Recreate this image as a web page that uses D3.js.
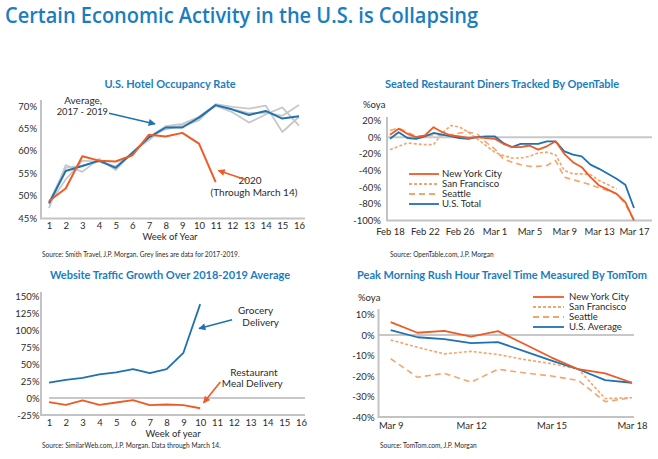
<!DOCTYPE html>
<html>
<head>
<meta charset="utf-8">
<script src="https://cdn.jsdelivr.net/npm/d3@7"></script>
<style>
  body { margin: 0; background: #fff; }
  svg { display: block; font-family: Lato, "Open Sans", sans-serif; }
</style>
</head>
<body>
<svg id="chart" width="658" height="459"></svg>
<script>
// ---- data ----
const weeks = [1, 2, 3, 4, 5, 6, 7, 8, 9, 10, 11, 12, 13, 14, 15, 16];

const hotelAvg = [48.3, 55.5, 56.6, 57.8, 56.2, 59.5, 63.0, 65.2, 65.2, 67.4, 70.2, 69.2, 68.0, 68.9, 67.2, 67.7];
const hotel2020 = [48.8, 51.6, 58.8, 57.8, 57.6, 59.0, 63.6, 63.2, 64.0, 61.6, 53.0];
const hotel2017 = [47.2, 56.8, 55.3, 58.2, 55.7, 59.7, 62.4, 65.4, 65.5, 66.8, 70.4, 69.8, 69.4, 70.1, 64.2, 67.6];
const hotel2018 = [48.0, 53.6, 57.8, 57.6, 56.5, 59.2, 63.1, 64.8, 65.6, 67.6, 70.0, 68.6, 66.3, 68.1, 69.7, 65.6];
const hotel2019 = [48.5, 56.2, 56.7, 57.6, 56.4, 59.6, 63.0, 65.5, 66.0, 67.6, 70.3, 69.3, 68.4, 68.5, 67.8, 70.2];
const hotelTicks = [45, 50, 55, 60, 65, 70];

// OpenTable: one value per day, Feb 18 (day 0) .. Mar 17 (day 28)
const dinerTickDays = [0, 4, 8, 12, 16, 20, 24, 28];
const dinerTickLabels = ["Feb 18", "Feb 22", "Feb 26", "Mar 1", "Mar 5", "Mar 9", "Mar 13", "Mar 17"];
const dinerNYC = [3, 10, 4, 0, 2, 12, 6, 2, 1, -1, 0, -1, -2, -8, -12, -12, -10, -15, -11, -5, -20, -30, -36, -48, -58, -63, -68, -78, -100];
const dinerSF = [-15, -11, -7, -8, -9, -9, 5, 14, 12, 6, -2, -10, -18, -22, -25, -25, -23, -19, -18, -21, -40, -44, -44, -45, -52, -57, -62];
const dinerSeattle = [8, 11, 6, 1, 1, 3, 2, 3, 5, 6, 4, -6, -14, -26, -30, -33, -35, -35, -34, -28, -48, -51, -54, -57, -61, -64, -68, -80, -100];
const dinerTotal = [-2, 6, -1, -2, 1, 5, 3, 1, -1, -2, 0, 1, 1, -7, -12, -8, -8, -8, -5, -5, -17, -21, -23, -33, -38, -44, -50, -57, -85];
const dinerTicks = [-100, -80, -60, -40, -20, 0, 20];

const grocery = [23, 27, 30, 35, 38, 43, 37, 43, 67, 139];
const restaurant = [-6, -10, -3.5, -10, -6.5, -3, -10.5, -9.5, -10.5, -15];
const webTicks = [-25, 0, 25, 50, 75, 100, 125, 150];

// TomTom: Mar 9 .. Mar 18
const travelDays = [9, 10, 11, 12, 13, 14, 15, 16, 17, 18];
const travelTickDays = [9, 12, 15, 18];
const travelNYC = [6.3, 1.1, 2.0, -0.8, 1.9, -4.5, -11, -16.7, -18.7, -23.3];
const travelSF = [-2.4, -6, -9.2, -8, -9.5, -12, -14, -16.7, -31, -30.6];
const travelSeattle = [-11.6, -20.6, -18.7, -23, -16.7, -18.5, -20, -22.2, -32.5, -30.6];
const travelUS = [2.4, -1.1, -2.0, -4.0, -3.5, -8, -12.5, -16.7, -22, -23.3];
const travelTicks = [-40, -30, -20, -10, 0, 10];

// ---- styles ----
const BLUE = "#1f72b1";
const ORANGE = "#f05a24";
const LIGHT = "#f4a56c";
const GREY = "#c8c8c8";
const AXIS = "#c3c3c3";
const TITLE = "#1a7dc0";
const TEXT = "#2b2b2b";
const SF_DASH = "3,2";
const SEA_DASH = "6,4";

const svg = d3.select("#chart");

const defs = svg.append("defs");
[["arrowBlue", BLUE], ["arrowOrange", ORANGE]].forEach(([id, c]) => {
  defs.append("marker")
    .attr("id", id)
    .attr("viewBox", "0 0 10 10")
    .attr("refX", 9)
    .attr("refY", 5)
    .attr("markerUnits", "userSpaceOnUse")
    .attr("markerWidth", 9)
    .attr("markerHeight", 7)
    .attr("orient", "auto")
    .append("path")
    .attr("d", "M0,0 L10,5 L0,10 Z")
    .attr("fill", c);
});

svg.append("text")
  .attr("x", 5)
  .attr("y", 23)
  .attr("font-family", "'Open Sans', sans-serif")
  .attr("font-size", 21.5)
  .attr("font-weight", 600)
  .attr("fill", TITLE)
  .attr("textLength", 473)
  .attr("lengthAdjust", "spacingAndGlyphs")
  .text("Certain Economic Activity in the U.S. is Collapsing");

// axes + frame for one panel
function drawFrame(p) {
  const g = svg.append("g");
  g.append("text")
    .attr("x", p.titleX)
    .attr("y", p.titleY)
    .attr("text-anchor", "middle")
    .attr("font-size", 11)
    .attr("font-weight", 700)
    .attr("fill", TITLE)
    .text(p.title);

  const yAxis = g.append("g")
    .attr("transform", `translate(${p.axisX},0)`)
    .call(d3.axisLeft(p.y).tickValues(p.yTicks).tickSize(0).tickPadding(p.yPad)
      .tickFormat((d) => d + "%"));
  const xAxis = g.append("g")
    .attr("transform", `translate(0,${p.axisY})`)
    .call(d3.axisBottom(p.x).tickValues(p.xTicks).tickSize(0).tickPadding(p.xPad)
      .tickFormat(p.xFormat));
  [yAxis, xAxis].forEach((a) => {
    a.select(".domain").remove();
    a.selectAll("text")
      .attr("font-size", 9.5)
      .attr("font-family", "Lato, sans-serif")
      .attr("fill", TEXT);
  });

  if (p.zeroLine) {
    g.append("line")
      .attr("x1", p.zeroFrom)
      .attr("x2", p.right)
      .attr("y1", p.y(0))
      .attr("y2", p.y(0))
      .attr("stroke", GREY)
      .attr("stroke-width", 2);
  }
  g.append("path")
    .attr("d", `M${p.axisX},${p.top} V${p.axisY} H${p.right}`)
    .attr("fill", "none")
    .attr("stroke", AXIS)
    .attr("stroke-width", 2);

  if (p.xTitle) {
    g.append("text")
      .attr("x", p.xTitleX)
      .attr("y", p.xTitleY)
      .attr("text-anchor", "middle")
      .attr("font-size", 9.5)
      .attr("fill", TEXT)
      .text(p.xTitle);
  }
  if (p.unit) {
    g.append("text")
      .attr("x", p.unitX)
      .attr("y", p.unitY)
      .attr("font-size", 9.5)
      .attr("fill", TEXT)
      .text(p.unit);
  }
  g.append("text")
    .attr("x", p.sourceX)
    .attr("y", p.sourceY)
    .attr("font-size", 6.6)
    .attr("fill", TEXT)
    .text(p.source);
  return g;
}

function drawLine(g, xs, ys, x, y, color, width, dash) {
  const line = d3.line()
    .x((d, i) => x(xs[i]))
    .y((d) => y(d));
  g.append("path")
    .datum(ys)
    .attr("d", line)
    .attr("fill", "none")
    .attr("stroke", color)
    .attr("stroke-width", width)
    .attr("stroke-linejoin", "round")
    .attr("stroke-dasharray", dash || null);
}

function arrow(g, x, y, from, to, color, marker) {
  g.append("line")
    .attr("x1", x(from[0]))
    .attr("y1", y(from[1]))
    .attr("x2", x(to[0]))
    .attr("y2", y(to[1]))
    .attr("stroke", color)
    .attr("stroke-width", 1.6)
    .attr("marker-end", `url(#${marker})`);
}

function note(g, x, y, lines) {
  lines.forEach(([text, wx, wy, size]) => {
    g.append("text")
      .attr("x", x(wx))
      .attr("y", y(wy))
      .attr("text-anchor", "middle")
      .attr("font-size", size || 10)
      .attr("fill", TEXT)
      .text(text);
  });
}

function legendBox(g, items, tx, ty, len, gap) {
  const lg = g.append("g").attr("transform", `translate(${tx},${ty})`);
  items.forEach(([name, c, dash], i) => {
    lg.append("line")
      .attr("x1", 0).attr("x2", len)
      .attr("y1", i * 10).attr("y2", i * 10)
      .attr("stroke", c).attr("stroke-width", 1.8)
      .attr("stroke-dasharray", dash);
    lg.append("text")
      .attr("x", len + gap).attr("y", i * 10 + 3.3)
      .attr("font-size", 9.6).attr("fill", TEXT)
      .text(name);
  });
}

// ---- 1. hotel occupancy ----
{
  const x = d3.scaleLinear().domain([1, 16]).range([49, 299]);
  const y = d3.scaleLinear().domain([45, 70]).range([218, 106]);
  const g = drawFrame({
    title: "U.S. Hotel Occupancy Rate", titleX: 170, titleY: 88,
    x, y, xTicks: weeks, xFormat: (d) => d, yTicks: hotelTicks,
    axisX: 41, axisY: 218.5, top: 100, right: 305, yPad: 4, xPad: 4,
    xTitle: "Week of Year", xTitleX: 170, xTitleY: 240,
    source: "Source: Smith Travel, J.P. Morgan. Grey lines are data for 2017-2019.",
    sourceX: 42, sourceY: 257,
  });
  [hotel2017, hotel2018, hotel2019].forEach((s) =>
    drawLine(g, weeks, s, x, y, GREY, 1.8));
  drawLine(g, weeks, hotelAvg, x, y, BLUE, 2);
  drawLine(g, weeks, hotel2020, x, y, ORANGE, 2);

  note(g, x, y, [["Average,", 3.05, 70.4], ["2017 - 2019", 3.0, 68.0, 9.3]]);
  arrow(g, x, y, [4.6, 68.4], [7.36, 66.0], BLUE, "arrowBlue");
  note(g, x, y, [["2020", 13.06, 52.6], ["(Through March 14)", 13.3, 49.9]]);
  arrow(g, x, y, [12.86, 53.5], [11.16, 55.6], ORANGE, "arrowOrange");
}

// ---- 2. OpenTable diners ----
{
  const x = d3.scaleLinear().domain([0, 28]).range([390, 634]);
  const y = d3.scaleLinear().domain([-100, 20]).range([220.5, 120.5]);
  const g = drawFrame({
    title: "Seated Restaurant Diners Tracked By OpenTable", titleX: 502, titleY: 88,
    x, y, xTicks: dinerTickDays, xFormat: (d, i) => dinerTickLabels[i], yTicks: dinerTicks,
    axisX: 387, axisY: 220.5, top: 117, right: 652, yPad: 6, xPad: 8,
    zeroLine: true, zeroFrom: 387,
    unit: "%oya", unitX: 363, unitY: 108,
    source: "Source: OpenTable.com, J.P. Morgan",
    sourceX: 390, sourceY: 257,
  });
  const days = dinerNYC.map((d, i) => i);
  drawLine(g, days, dinerSF, x, y, LIGHT, 1.6, SF_DASH);
  drawLine(g, days, dinerSeattle, x, y, LIGHT, 1.6, SEA_DASH);
  drawLine(g, days, dinerTotal, x, y, BLUE, 1.8);
  drawLine(g, days, dinerNYC, x, y, ORANGE, 1.8);

  legendBox(g, [
    ["New York City", ORANGE, null],
    ["San Francisco", LIGHT, SF_DASH],
    ["Seattle", LIGHT, SEA_DASH],
    ["U.S. Total", BLUE, null],
  ], 409, 174, 30, 3);
}

// ---- 3. website traffic ----
{
  const x = d3.scaleLinear().domain([1, 16]).range([49, 301]);
  const y = d3.scaleLinear().domain([-25, 150]).range([415, 296.7]);
  const g = drawFrame({
    title: "Website Traffic Growth Over 2018-2019 Average", titleX: 170, titleY: 279,
    x, y, xTicks: weeks, xFormat: (d) => d, yTicks: webTicks,
    axisX: 41, axisY: 415, top: 292, right: 305, yPad: 1.5, xPad: 4,
    zeroLine: true, zeroFrom: 49,
    xTitle: "Week of year", xTitleX: 173, xTitleY: 437,
    source: "Source: SimilarWeb.com, J.P. Morgan. Data through March 14.",
    sourceX: 42, sourceY: 448,
  });
  drawLine(g, weeks, grocery, x, y, BLUE, 1.8);
  drawLine(g, weeks, restaurant, x, y, ORANGE, 1.8);

  note(g, x, y, [["Grocery", 13.3, 124], ["Delivery", 13.6, 107]]);
  arrow(g, x, y, [11.9, 116], [9.93, 103], BLUE, "arrowBlue");
  note(g, x, y, [["Restaurant", 13.2, 33], ["Meal Delivery", 13.1, 17]]);
  arrow(g, x, y, [11.2, 24], [10.2, -7], ORANGE, "arrowOrange");
}

// ---- 4. TomTom travel time ----
{
  const x = d3.scaleLinear().domain([9, 18]).range([390.7, 632]);
  const y = d3.scaleLinear().domain([-40, 10]).range([417, 314.5]);
  const g = drawFrame({
    title: "Peak Morning Rush Hour Travel Time Measured By TomTom", titleX: 502, titleY: 279,
    x, y, xTicks: travelTickDays, xFormat: (d) => "Mar " + d, yTicks: travelTicks,
    axisX: 378.5, axisY: 417, top: 309, right: 634, yPad: 4, xPad: 5,
    zeroLine: true, zeroFrom: 378.5,
    unit: "%oya", unitX: 358, unitY: 301,
    source: "Source: TomTom.com, J.P. Morgan",
    sourceX: 380, sourceY: 448,
  });
  drawLine(g, travelDays, travelSF, x, y, LIGHT, 1.6, SF_DASH);
  drawLine(g, travelDays, travelSeattle, x, y, LIGHT, 1.6, SEA_DASH);
  drawLine(g, travelDays, travelUS, x, y, BLUE, 1.8);
  drawLine(g, travelDays, travelNYC, x, y, ORANGE, 1.8);

  legendBox(g, [
    ["New York City", ORANGE, null],
    ["San Francisco", LIGHT, SF_DASH],
    ["Seattle", LIGHT, SEA_DASH],
    ["U.S. Average", BLUE, null],
  ], 533, 297, 31, 5);
}
</script>
</body>
</html>
